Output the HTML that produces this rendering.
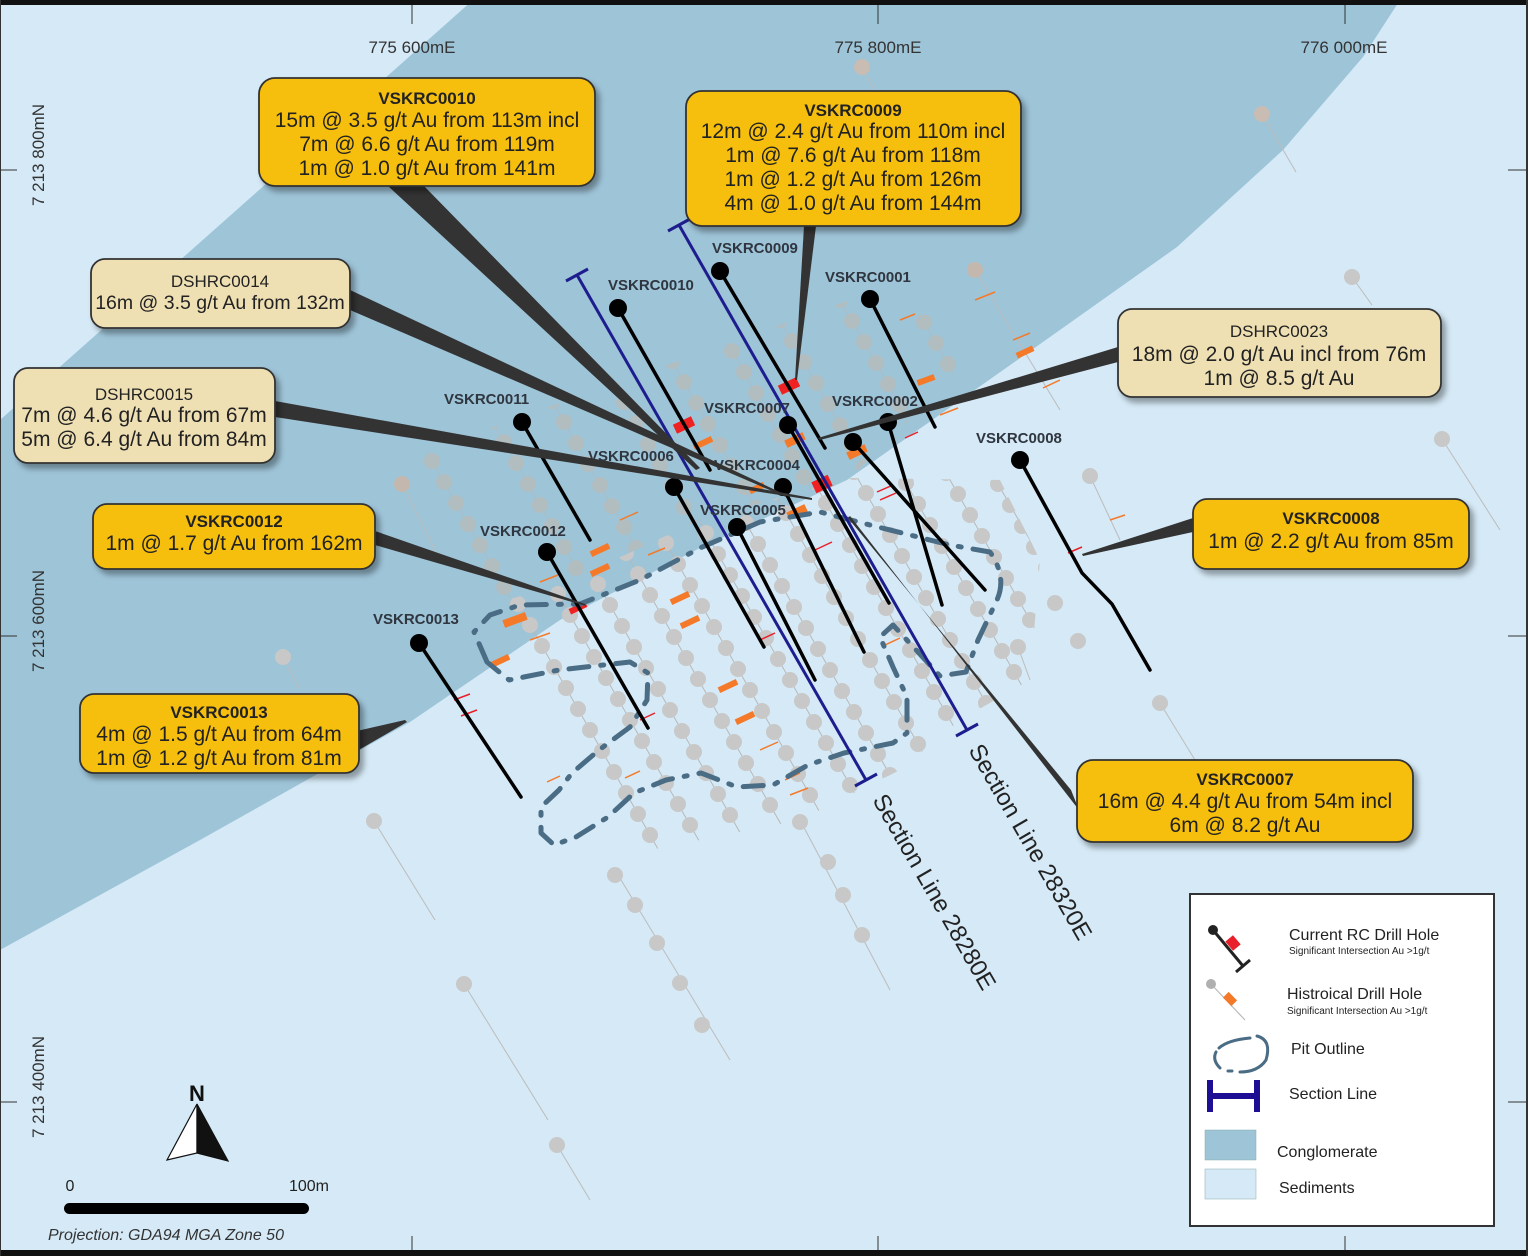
<!DOCTYPE html>
<html><head><meta charset="utf-8"><style>
html,body{margin:0;padding:0;background:#d5e9f6;}
svg{display:block;}
text{font-family:"Liberation Sans",Arial,sans-serif;}
</style></head><body>
<svg width="1528" height="1256" viewBox="0 0 1528 1256" xmlns="http://www.w3.org/2000/svg">
<defs>
 <filter id="sh" x="-10%" y="-10%" width="130%" height="140%"><feDropShadow dx="4" dy="5" stdDeviation="3" flood-color="#000" flood-opacity="0.35"/></filter>
 <g id="col">
  <line x1="0" y1="0" x2="200" y2="350" stroke="#b8b8b8" stroke-width="1"/>
  <circle cx="0" cy="0" r="8"/><circle cx="12" cy="21" r="8"/><circle cx="24" cy="42" r="8"/><circle cx="36" cy="63" r="8"/><circle cx="48" cy="84" r="8"/><circle cx="60" cy="105" r="8"/><circle cx="72" cy="126" r="8"/><circle cx="84" cy="147" r="8"/><circle cx="96" cy="168" r="8"/><circle cx="108" cy="189" r="8"/><circle cx="120" cy="210" r="8"/><circle cx="132" cy="231" r="8"/><circle cx="144" cy="252" r="8"/><circle cx="156" cy="273" r="8"/><circle cx="168" cy="294" r="8"/><circle cx="180" cy="315" r="8"/>
 </g>
 <clipPath id="pitc"><polygon points="470,610 560,585 700,520 850,478 1000,480 1040,560 1030,680 960,720 900,770 800,820 700,840 600,860 520,830 470,720"/></clipPath>
 <clipPath id="darkc"><polygon points="400,460 850,300 1000,330 850,478 700,520 560,585 470,610 400,640"/></clipPath>
</defs>

<rect width="1528" height="1256" fill="#d5e9f6"/>
<path d="M473,0 L1400,0 L1363,57 L1283,150 L1177,247 L1050,337 L847,480 L700,548 L560,620 L410,722 L200,840 L0,950 L0,420 Z" fill="#9ec4d8"/>

<g fill="#c8c8c8" clip-path="url(#pitc)">
 <use href="#col" x="470" y="520"/><use href="#col" x="510" y="510"/><use href="#col" x="550" y="500"/><use href="#col" x="590" y="490"/>
 <use href="#col" x="630" y="480"/><use href="#col" x="670" y="470"/><use href="#col" x="710" y="460"/><use href="#col" x="750" y="450"/>
 <use href="#col" x="790" y="440"/><use href="#col" x="830" y="430"/><use href="#col" x="870" y="420"/><use href="#col" x="910" y="410"/>
 <use href="#col" x="950" y="400"/><use href="#col" x="990" y="390"/>
</g>
<g fill="#c4b8ae" opacity="0.55" clip-path="url(#darkc)">
 <use href="#col" x="420" y="440"/><use href="#col" x="480" y="400"/><use href="#col" x="540" y="380"/><use href="#col" x="600" y="360"/>
 <use href="#col" x="660" y="340"/><use href="#col" x="720" y="330"/><use href="#col" x="780" y="320"/><use href="#col" x="840" y="300"/><use href="#col" x="900" y="280"/>
</g>
<g fill="#c8c8c8" stroke="#bcbcbc" stroke-width="1">
 <line x1="862" y1="67" x2="900" y2="140"/><circle cx="862" cy="67" r="8" stroke="none" fill="#c9bcb2"/>
 <line x1="1262" y1="114" x2="1296" y2="172"/><circle cx="1262" cy="114" r="8" stroke="none" fill="#c9bcb2"/>
 <line x1="1352" y1="277" x2="1372" y2="305"/><circle cx="1352" cy="277" r="8" stroke="none"/>
 <line x1="1442" y1="439" x2="1500" y2="530"/><circle cx="1442" cy="439" r="8" stroke="none"/>
 <line x1="1090" y1="476" x2="1120" y2="540"/><circle cx="1090" cy="476" r="8" stroke="none"/>
 <circle cx="1055" cy="603" r="8" stroke="none"/><circle cx="1078" cy="641" r="8" stroke="none"/>
 <line x1="1160" y1="703" x2="1195" y2="760"/><circle cx="1160" cy="703" r="8" stroke="none"/>
 <line x1="1018" y1="647" x2="1030" y2="680"/><circle cx="1018" cy="647" r="8" stroke="none"/>
 <line x1="283" y1="657" x2="300" y2="690"/><circle cx="283" cy="657" r="8" stroke="none"/>
 <line x1="374" y1="821" x2="435" y2="920"/><circle cx="374" cy="821" r="8" stroke="none"/>
 <line x1="464" y1="984" x2="548" y2="1120"/><circle cx="464" cy="984" r="8" stroke="none"/>
 <line x1="557" y1="1145" x2="590" y2="1200"/><circle cx="557" cy="1145" r="8" stroke="none"/>
 <line x1="615" y1="870" x2="730" y2="1060"/><circle cx="615" cy="875" r="8" stroke="none"/><circle cx="635" cy="905" r="8" stroke="none"/><circle cx="657" cy="943" r="8" stroke="none"/><circle cx="680" cy="983" r="8" stroke="none"/><circle cx="702" cy="1025" r="8" stroke="none"/>
 <line x1="800" y1="820" x2="890" y2="990"/><circle cx="800" cy="822" r="8" stroke="none"/><circle cx="828" cy="862" r="8" stroke="none"/><circle cx="843" cy="895" r="8" stroke="none"/><circle cx="862" cy="935" r="8" stroke="none"/>
 <line x1="402" y1="484" x2="440" y2="560"/><circle cx="402" cy="484" r="8" stroke="none" fill="#c4b8ae"/>
 <line x1="975" y1="270" x2="1060" y2="410"/><circle cx="975" cy="270" r="8" stroke="none" fill="#c4b8ae"/>
</g>

<g fill="#f47a2a">
 <rect x="-9" y="-3" width="18" height="6" transform="translate(1025,352) rotate(-25)"/>
 <rect x="-9" y="-3" width="18" height="6" transform="translate(926,380) rotate(-20)"/>
 <rect x="-12" y="-4" width="24" height="8" transform="translate(515,620) rotate(-20)"/>
 <rect x="-10" y="-3" width="20" height="6" transform="translate(500,661) rotate(-25)"/>
 <rect x="-10" y="-3" width="20" height="6" transform="translate(680,598) rotate(-25)"/>
 <rect x="-10" y="-3" width="20" height="6" transform="translate(690,622) rotate(-25)"/>
 <rect x="-10" y="-3" width="20" height="6" transform="translate(728,686) rotate(-25)"/>
 <rect x="-10" y="-3" width="20" height="6" transform="translate(745,718) rotate(-25)"/>
 <rect x="-10" y="-3" width="20" height="6" transform="translate(600,550) rotate(-25)"/>
 <rect x="-10" y="-3" width="20" height="6" transform="translate(600,570) rotate(-25)"/>
 <rect x="-10" y="-4" width="20" height="8" transform="translate(797,512) rotate(-25)"/>
 <rect x="-10" y="-4" width="20" height="8" transform="translate(795,440) rotate(-25)"/>
 <rect x="-10" y="-4" width="20" height="8" transform="translate(857,452) rotate(-25)"/>
 <rect x="-10" y="-3" width="20" height="6" transform="translate(703,443) rotate(-25)"/>
 <rect x="-8" y="-3" width="16" height="6" transform="translate(757,488) rotate(-25)"/>
</g>
<g stroke="#f47a2a" stroke-width="1.5">
 <line x1="975" y1="300" x2="995" y2="292"/><line x1="1013" y1="340" x2="1030" y2="333"/><line x1="1043" y1="388" x2="1060" y2="380"/>
 <line x1="900" y1="320" x2="915" y2="314"/><line x1="940" y1="415" x2="958" y2="408"/><line x1="1110" y1="520" x2="1125" y2="515"/>
 <line x1="540" y1="582" x2="558" y2="575"/><line x1="530" y1="640" x2="550" y2="633"/><line x1="620" y1="520" x2="638" y2="512"/>
 <line x1="648" y1="555" x2="665" y2="548"/><line x1="760" y1="750" x2="778" y2="742"/><line x1="625" y1="778" x2="640" y2="771"/>
 <line x1="790" y1="795" x2="808" y2="788"/><line x1="785" y1="780" x2="800" y2="773"/><line x1="547" y1="782" x2="560" y2="776"/>
 <line x1="885" y1="645" x2="900" y2="638"/>
</g>
<g stroke="#e8202a" stroke-width="1.5">
 <line x1="454" y1="700" x2="470" y2="694"/><line x1="461" y1="716" x2="477" y2="710"/><line x1="640" y1="720" x2="655" y2="713"/>
 <line x1="1068" y1="553" x2="1082" y2="547"/><line x1="815" y1="550" x2="832" y2="542"/><line x1="877" y1="492" x2="893" y2="485"/>
 <line x1="880" y1="500" x2="896" y2="493"/><line x1="905" y1="438" x2="918" y2="432"/><line x1="760" y1="640" x2="775" y2="633"/>
</g>
<g fill="#ee2222">
 <rect x="-10" y="-5" width="20" height="10" transform="translate(684,425) rotate(-25)"/>
 <rect x="-10" y="-5" width="20" height="10" transform="translate(789,386) rotate(-25)"/>
 <rect x="-9" y="-6" width="18" height="12" transform="translate(822,484) rotate(-25)"/>
 <rect x="-9" y="-3" width="18" height="6" transform="translate(578,608) rotate(-25)"/>
</g>

<path d="M487,662 L474,632 L490,615 L520,605 L580,604 L640,580 L700,548 L760,522 L820,512 L870,525 L950,545 L990,552 Q1008,578 996,602 L978,640 L966,672 L940,676 L918,652 L893,625 L880,637 L893,667 L907,697 L907,733 L893,743 L844,753 L808,765 L773,785 L737,787 L701,773 L666,780 L634,793 L608,817 L576,837 L554,845 L541,833 L541,807 L559,790 L572,773 L599,750 L630,727 L647,700 L648,673 L630,662 L559,670 L509,680 Z" fill="none" stroke="#4a6c84" stroke-width="5" stroke-linecap="round" stroke-linejoin="round" stroke-dasharray="20 12 3 12"/>

<g stroke="#1d1d8e" stroke-width="3" fill="none">
 <line x1="577" y1="275" x2="866" y2="780"/><line x1="566" y1="281" x2="588" y2="269"/><line x1="855" y1="786" x2="877" y2="774"/>
 <line x1="679" y1="225" x2="967" y2="730"/><line x1="668" y1="231" x2="690" y2="219"/><line x1="956" y1="736" x2="978" y2="724"/>
</g>
<text transform="translate(872,800) rotate(60)" font-size="24" fill="#222">Section Line 28280E</text>
<text transform="translate(968,750) rotate(60)" font-size="24" fill="#222">Section Line 28320E</text>

<g stroke="#000" stroke-width="3.5" stroke-linecap="round">
 <line x1="618" y1="308" x2="710" y2="470"/>
 <line x1="720" y1="271" x2="825" y2="448"/>
 <line x1="870" y1="299" x2="935" y2="427"/>
 <line x1="522" y1="422" x2="590" y2="540"/>
 <line x1="788" y1="425" x2="889" y2="603"/>
 <line x1="888" y1="422" x2="942" y2="605"/>
 <line x1="853" y1="442" x2="985" y2="590"/>
 <line x1="674" y1="487" x2="764" y2="647"/>
 <line x1="783" y1="487" x2="864" y2="652"/>
 <line x1="737" y1="527" x2="815" y2="680"/>
 <line x1="547" y1="552" x2="648" y2="728"/>
 <line x1="419" y1="643" x2="521" y2="797"/>
 <polyline points="1020,460 1082,573 1112,604 1150,670" fill="none"/>
</g>
<g fill="#000">
 <circle cx="618" cy="308" r="9"/><circle cx="720" cy="271" r="9"/><circle cx="870" cy="299" r="9"/><circle cx="522" cy="422" r="9"/>
 <circle cx="788" cy="425" r="9"/><circle cx="888" cy="422" r="9"/><circle cx="853" cy="442" r="9"/><circle cx="674" cy="487" r="9"/>
 <circle cx="783" cy="487" r="9"/><circle cx="737" cy="527" r="9"/><circle cx="547" cy="552" r="9"/><circle cx="419" cy="643" r="9"/>
 <circle cx="1020" cy="460" r="9"/>
</g>
<g font-size="15" font-weight="bold" fill="#2f3640">
 <text x="608" y="290">VSKRC0010</text><text x="712" y="253">VSKRC0009</text><text x="825" y="282">VSKRC0001</text>
 <text x="444" y="404">VSKRC0011</text><text x="704" y="413">VSKRC0007</text><text x="832" y="406">VSKRC0002</text>
 <text x="976" y="443">VSKRC0008</text><text x="588" y="461">VSKRC0006</text><text x="714" y="470">VSKRC0004</text>
 <text x="700" y="515">VSKRC0005</text><text x="480" y="536">VSKRC0012</text><text x="373" y="624">VSKRC0013</text>
</g>

<g fill="#333">
 <polygon points="388,186 424,186 700,468 696,470"/>
 <polygon points="804,226 816,226 797,380 795,380"/>
 <polygon points="350,290 350,310 786,497 786,495"/>
 <polygon points="275,401 275,417 812,500 812,498"/>
 <polygon points="1118,347 1118,362 820,440 818,438"/>
 <polygon points="375,531 375,545 586,606 585,604"/>
 <polygon points="1193,518 1193,532 1083,556 1082,554"/>
 <polygon points="326,738 338,762 407,722 405,720"/>
 <polygon points="1071,790 1079,810 850,516 848,518"/>
</g>

<g filter="url(#sh)" stroke="#333" stroke-width="1.8">
 <rect x="259" y="78" width="336" height="108" rx="16" fill="#f7bf0c"/>
 <rect x="686" y="91" width="335" height="135" rx="16" fill="#f7bf0c"/>
 <rect x="91" y="259" width="259" height="69" rx="14" fill="#efe0b4"/>
 <rect x="14" y="368" width="261" height="95" rx="14" fill="#efe0b4"/>
 <rect x="1118" y="309" width="323" height="88" rx="14" fill="#efe0b4"/>
 <rect x="93" y="504" width="282" height="65" rx="14" fill="#f7bf0c"/>
 <rect x="1193" y="499" width="276" height="70" rx="14" fill="#f7bf0c"/>
 <rect x="80" y="694" width="279" height="79" rx="14" fill="#f7bf0c"/>
 <rect x="1077" y="760" width="336" height="82" rx="16" fill="#f7bf0c"/>
</g>
<g font-size="21" fill="#222" text-anchor="middle">
 <text x="427" y="104" font-weight="bold" font-size="17">VSKRC0010</text>
 <text x="427" y="127">15m @ 3.5 g/t Au from 113m incl</text>
 <text x="427" y="151">7m @ 6.6 g/t Au from 119m</text>
 <text x="427" y="175">1m @ 1.0 g/t Au from 141m</text>
 <text x="853" y="116" font-weight="bold" font-size="17">VSKRC0009</text>
 <text x="853" y="138">12m @ 2.4 g/t Au from 110m incl</text>
 <text x="853" y="162">1m @ 7.6 g/t Au from 118m</text>
 <text x="853" y="186">1m @ 1.2 g/t Au from 126m</text>
 <text x="853" y="210">4m @ 1.0 g/t Au from 144m</text>
 <text x="220" y="287" font-size="17">DSHRC0014</text>
 <text x="220" y="309" font-size="19.5">16m @ 3.5 g/t Au from 132m</text>
 <text x="144" y="400" font-size="17">DSHRC0015</text>
 <text x="144" y="422">7m @ 4.6 g/t Au from 67m</text>
 <text x="144" y="446">5m @ 6.4 g/t Au from 84m</text>
 <text x="1279" y="337" font-size="17">DSHRC0023</text>
 <text x="1279" y="361">18m @ 2.0 g/t Au incl from 76m</text>
 <text x="1279" y="385">1m @ 8.5 g/t Au</text>
 <text x="234" y="527" font-weight="bold" font-size="17">VSKRC0012</text>
 <text x="234" y="550">1m @ 1.7 g/t Au from 162m</text>
 <text x="1331" y="524" font-weight="bold" font-size="17">VSKRC0008</text>
 <text x="1331" y="548">1m @ 2.2 g/t Au from 85m</text>
 <text x="219" y="718" font-weight="bold" font-size="17">VSKRC0013</text>
 <text x="219" y="741">4m @ 1.5 g/t Au from 64m</text>
 <text x="219" y="765">1m @ 1.2 g/t Au from 81m</text>
 <text x="1245" y="785" font-weight="bold" font-size="17">VSKRC0007</text>
 <text x="1245" y="808">16m @ 4.4 g/t Au from 54m incl</text>
 <text x="1245" y="832">6m @ 8.2 g/t Au</text>
</g>

<g stroke="#333" stroke-width="1">
 <line x1="412" y1="5" x2="412" y2="24"/><line x1="878" y1="5" x2="878" y2="24"/><line x1="1345" y1="5" x2="1345" y2="24"/>
 <line x1="412" y1="1236" x2="412" y2="1250"/><line x1="878" y1="1236" x2="878" y2="1250"/><line x1="1345" y1="1236" x2="1345" y2="1250"/>
 <line x1="0" y1="170" x2="17" y2="170"/><line x1="0" y1="636" x2="17" y2="636"/><line x1="0" y1="1102" x2="17" y2="1102"/>
 <line x1="1508" y1="170" x2="1528" y2="170"/><line x1="1508" y1="636" x2="1528" y2="636"/><line x1="1508" y1="1102" x2="1528" y2="1102"/>
</g>
<g font-size="17" fill="#333" text-anchor="middle">
 <text x="412" y="53">775 600mE</text><text x="878" y="53">775 800mE</text><text x="1344" y="53">776 000mE</text>
 <text transform="translate(44,155) rotate(-90)">7 213 800mN</text>
 <text transform="translate(44,621) rotate(-90)">7 213 600mN</text>
 <text transform="translate(44,1087) rotate(-90)">7 213 400mN</text>
</g>

<text x="197" y="1101" font-family="Liberation Serif,serif" font-weight="bold" font-size="22" text-anchor="middle" fill="#111">N</text>
<polygon points="197,1104 167,1160 197,1153" fill="#fff" stroke="#111" stroke-width="1.2"/>
<polygon points="197,1104 228,1161 197,1153" fill="#111" stroke="#111" stroke-width="1.2"/>
<text x="70" y="1191" font-size="16" fill="#222" text-anchor="middle">0</text>
<text x="309" y="1191" font-size="16" fill="#222" text-anchor="middle">100m</text>
<rect x="64" y="1203" width="245" height="11" rx="5.5" fill="#000"/>
<text x="48" y="1240" font-size="16" font-style="italic" fill="#333">Projection: GDA94 MGA Zone 50</text>

<rect x="1190" y="894" width="304" height="332" fill="#fff" stroke="#333" stroke-width="2"/>
<line x1="1213" y1="930" x2="1243" y2="966" stroke="#222" stroke-width="3"/>
<line x1="1236" y1="972" x2="1250" y2="960" stroke="#222" stroke-width="3"/>
<circle cx="1213" cy="930" r="5" fill="#222"/>
<rect x="-5" y="-6" width="10" height="12" fill="#e8202a" transform="translate(1233,943) rotate(-40)"/>
<text x="1289" y="940" font-size="16" fill="#222">Current RC Drill Hole</text>
<text x="1289" y="954" font-size="10" fill="#222">Significant Intersection Au &gt;1g/t</text>
<line x1="1211" y1="984" x2="1245" y2="1020" stroke="#bbb" stroke-width="1.2"/>
<circle cx="1211" cy="984" r="5" fill="#b0b0b0"/>
<rect x="-4" y="-6" width="8" height="12" fill="#f47a2a" transform="translate(1230,999) rotate(-45)"/>
<text x="1287" y="999" font-size="16" fill="#222">Histroical Drill Hole</text>
<text x="1287" y="1014" font-size="10" fill="#222">Significant Intersection Au &gt;1g/t</text>
<path d="M1219,1048 Q1228,1040 1250,1038 M1257,1036 Q1272,1040 1266,1060 Q1258,1072 1240,1072 M1232,1071 L1228,1071 M1220,1068 Q1212,1060 1216,1052" fill="none" stroke="#4a6c84" stroke-width="3" stroke-linecap="round"/>
<text x="1291" y="1054" font-size="16" fill="#222">Pit Outline</text>
<g fill="#1d0e94"><rect x="1207" y="1080" width="6" height="32"/><rect x="1254" y="1080" width="6" height="32"/><rect x="1207" y="1093" width="53" height="6"/></g>
<text x="1289" y="1099" font-size="16" fill="#222">Section Line</text>
<rect x="1205" y="1130" width="51" height="30" fill="#9ec4d8" stroke="#8aa" stroke-width="0.5"/>
<text x="1277" y="1157" font-size="16" fill="#222">Conglomerate</text>
<rect x="1205" y="1169" width="51" height="30" fill="#d5e9f6" stroke="#8aa" stroke-width="0.5"/>
<text x="1279" y="1193" font-size="16" fill="#222">Sediments</text>

<rect x="0" y="0" width="1528" height="5" fill="#111"/>
<rect x="0" y="1250" width="1528" height="6" fill="#111"/>
<rect x="0" y="0" width="1" height="1256" fill="#333"/>
<rect x="1526" y="0" width="2" height="1256" fill="#333"/>
</svg>
</body></html>
